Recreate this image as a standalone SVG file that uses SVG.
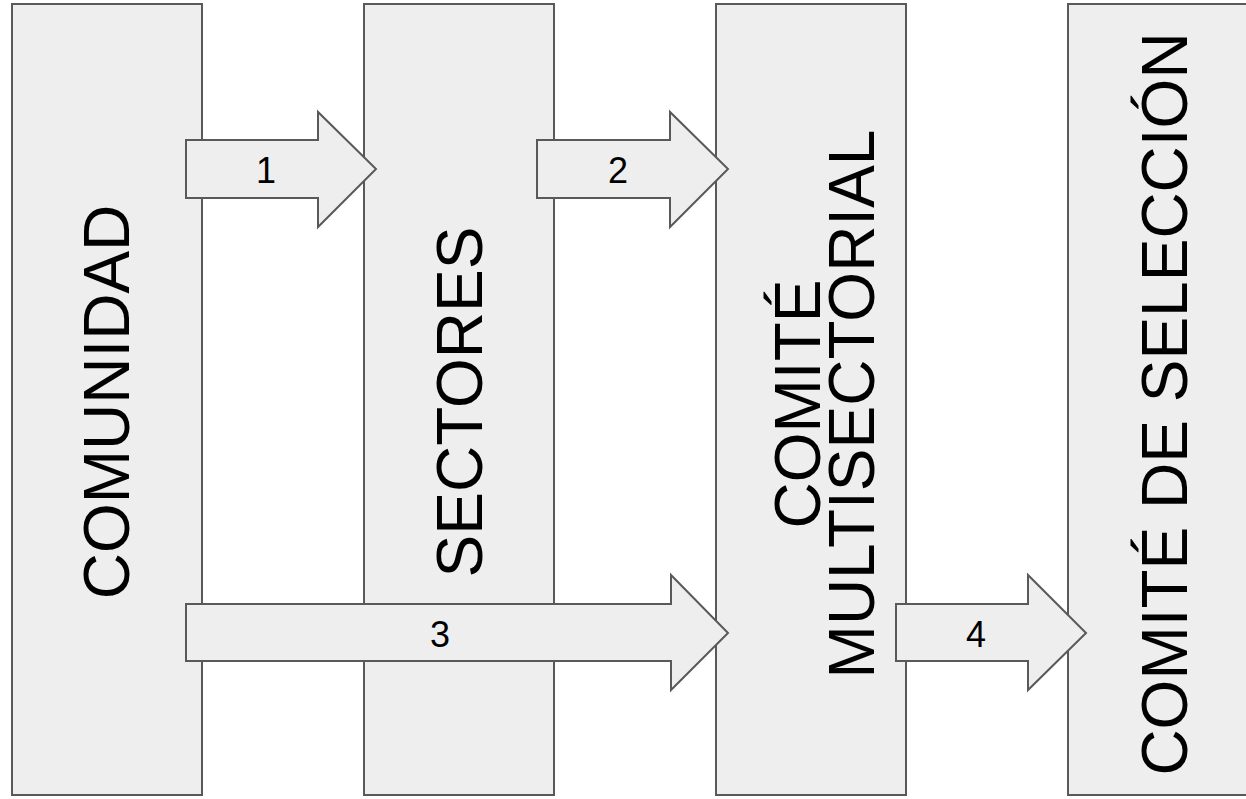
<svg xmlns="http://www.w3.org/2000/svg" width="1246" height="799" viewBox="0 0 1246 799">
<style>
.box{fill:#eeeeee;stroke:#595959;stroke-width:2}
.arr{fill:#eeeeee;stroke:#595959;stroke-width:2;stroke-linejoin:miter}
.big{font-family:"Liberation Sans",Arial,sans-serif;font-size:64px;fill:#000;text-anchor:middle}
.num{font-family:"Liberation Sans",Arial,sans-serif;font-size:36px;fill:#000;text-anchor:middle}
</style>
<rect width="1246" height="799" fill="#ffffff"/>
<g id="comunidad">
<rect class="box" x="12" y="4" width="190" height="791"/>
<text class="big" transform="translate(129,402) rotate(-90)">COMUNIDAD</text>
</g>
<g id="sectores">
<rect class="box" x="364" y="4" width="190" height="791"/>
<text class="big" transform="translate(482,402) rotate(-90)">SECTORES</text>
</g>
<g id="comite-multisectorial">
<rect class="box" x="716" y="4" width="190" height="791"/>
<text class="big" transform="translate(820,404) rotate(-90)">COMITÉ</text>
<text class="big" transform="translate(874,404) rotate(-90)">MULTISECTORIAL</text>
</g>
<g id="comite-seleccion">
<rect class="box" x="1068" y="4" width="190" height="791"/>
<text class="big" transform="translate(1187,404) rotate(-90)">COMITÉ DE SELECCIÓN</text>
</g>
<g id="connectors">
<g id="arrow1">
<polygon class="arr" points="186,140 318,140 318,112 376,169 318,227 318,198 186,198"/>
<text class="num" x="266" y="183">1</text>
</g>
<g id="arrow2">
<polygon class="arr" points="537,140 670,140 670,112 728,169 670,227 670,198 537,198"/>
<text class="num" x="618" y="183">2</text>
</g>
<g id="arrow3">
<polygon class="arr" points="186,604 671,604 671,575 728,633 671,690 671,661 186,661"/>
<text class="num" x="440" y="647">3</text>
</g>
<g id="arrow4">
<polygon class="arr" points="896,604 1028,604 1028,575 1086,633 1028,690 1028,661 896,661"/>
<text class="num" x="976" y="647">4</text>
</g>
</g>
</svg>
